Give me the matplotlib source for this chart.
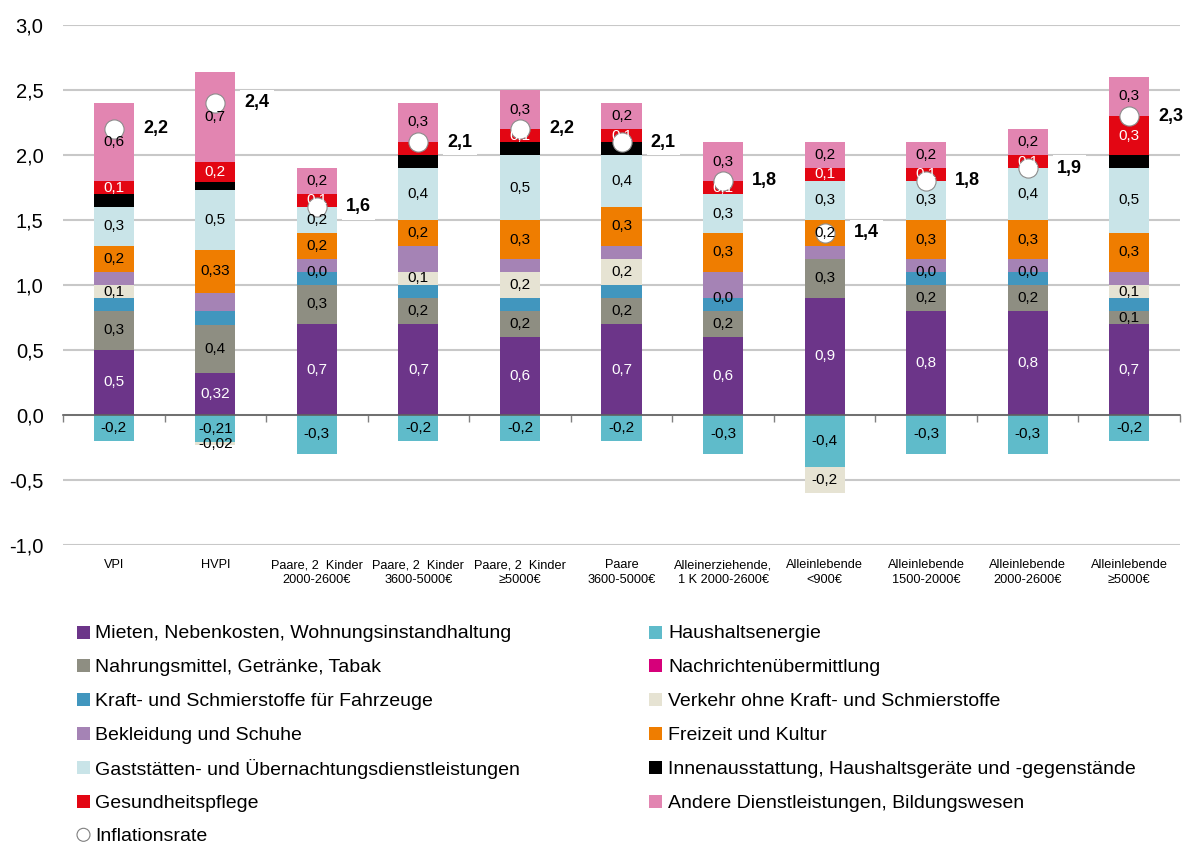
import numpy as np
import matplotlib
matplotlib.use("Agg")
import matplotlib.pyplot as plt
from matplotlib.patches import Rectangle, Ellipse

plt.rcParams["font.family"] = ["Liberation Sans", "DejaVu Sans"]

categories = [
    "VPI", "HVPI",
    "Paare, 2  Kinder\n2000-2600€", "Paare, 2  Kinder\n3600-5000€", "Paare, 2  Kinder\n≥5000€",
    "Paare\n3600-5000€", "Alleinerziehende,\n1 K 2000-2600€", "Alleinlebende\n<900€",
    "Alleinlebende\n1500-2000€", "Alleinlebende\n2000-2600€", "Alleinlebende\n≥5000€",
]

# segment heights (percentage points)
mieten = [0.5, 0.32, 0.7, 0.7, 0.6, 0.7, 0.6, 0.9, 0.8, 0.8, 0.7]
energie = [-0.2, -0.21, -0.3, -0.2, -0.2, -0.2, -0.3, -0.4, -0.3, -0.3, -0.2]
nahrung = [0.3, 0.37, 0.3, 0.2, 0.2, 0.2, 0.2, 0.3, 0.2, 0.2, 0.1]
nachrichten = [0.0] * 11
kraft = [0.1, 0.11, 0.1, 0.1, 0.1, 0.1, 0.1, 0.0, 0.1, 0.1, 0.1]
verkehr = [0.1, -0.02, 0.0, 0.1, 0.2, 0.2, 0.0, -0.2, 0.0, 0.0, 0.1]
bekleidung = [0.1, 0.14, 0.1, 0.2, 0.1, 0.1, 0.2, 0.1, 0.1, 0.1, 0.1]
freizeit = [0.2, 0.33, 0.2, 0.2, 0.3, 0.3, 0.3, 0.2, 0.3, 0.3, 0.3]
gaststaetten = [0.3, 0.46, 0.2, 0.4, 0.5, 0.4, 0.3, 0.3, 0.3, 0.4, 0.5]
innen = [0.1, 0.06, 0.0, 0.1, 0.1, 0.1, 0.0, 0.0, 0.0, 0.0, 0.1]
gesundheit = [0.1, 0.16, 0.1, 0.1, 0.1, 0.1, 0.1, 0.1, 0.1, 0.1, 0.3]
andere = [0.6, 0.69, 0.2, 0.3, 0.3, 0.2, 0.3, 0.2, 0.2, 0.2, 0.3]
inflation = [2.2, 2.4, 1.6, 2.1, 2.2, 2.1, 1.8, 1.4, 1.8, 1.9, 2.3]

# data labels as printed in the chart (None = not shown)
lab_mieten = ["0,5", "0,32", "0,7", "0,7", "0,6", "0,7", "0,6", "0,9", "0,8", "0,8", "0,7"]
lab_energie = ["-0,2", "-0,21", "-0,3", "-0,2", "-0,2", "-0,2", "-0,3", "-0,4", "-0,3", "-0,3", "-0,2"]
lab_nahrung = ["0,3", "0,4", "0,3", "0,2", "0,2", "0,2", "0,2", "0,3", "0,2", "0,2", "0,1"]
lab_verkehr = ["0,1", "-0,02", "0,0", "0,1", "0,2", "0,2", "0,0", "-0,2", "0,0", "0,0", "0,1"]
lab_freizeit = ["0,2", "0,33", "0,2", "0,2", "0,3", "0,3", "0,3", "0,2", "0,3", "0,3", "0,3"]
lab_gast = ["0,3", "0,5", "0,2", "0,4", "0,5", "0,4", "0,3", "0,3", "0,3", "0,4", "0,5"]
lab_gesund = ["0,1", "0,2", "0,1", None, "0,1", "0,1", "0,1", "0,1", "0,1", "0,1", "0,3"]
lab_andere = ["0,6", "0,7", "0,2", "0,3", "0,3", "0,2", "0,3", "0,2", "0,2", "0,2", "0,3"]
lab_inflation = ["2,2", "2,4", "1,6", "2,1", "2,2", "2,1", "1,8", "1,4", "1,8", "1,9", "2,3"]

series = [
    ("Mieten, Nebenkosten, Wohnungsinstandhaltung", mieten, "#6C3589", lab_mieten, "white"),
    ("Haushaltsenergie", energie, "#5FBBCA", lab_energie, "black"),
    ("Nahrungsmittel, Getränke, Tabak", nahrung, "#8E8E82", lab_nahrung, "black"),
    ("Nachrichtenübermittlung", nachrichten, "#D6007A", None, "black"),
    ("Kraft- und Schmierstoffe für Fahrzeuge", kraft, "#4196BE", None, "black"),
    ("Verkehr ohne Kraft- und Schmierstoffe", verkehr, "#E6E3D3", lab_verkehr, "black"),
    ("Bekleidung und Schuhe", bekleidung, "#A583B5", None, "black"),
    ("Freizeit und Kultur", freizeit, "#EF7D00", lab_freizeit, "black"),
    ("Gaststätten- und Übernachtungsdienstleistungen", gaststaetten, "#C9E4E8", lab_gast, "black"),
    ("Innenausstattung, Haushaltsgeräte und -gegenstände", innen, "#000000", None, "black"),
    ("Gesundheitspflege", gesundheit, "#E30613", lab_gesund, "white"),
    ("Andere Dienstleistungen, Bildungswesen", andere, "#E285B1", lab_andere, "black"),
]

W, H = 1184, 843
fig = plt.figure(figsize=(W / 100, H / 100), dpi=100)
ax = fig.add_axes([63 / W, 1 - 545 / H, 1117 / W, 520 / H])

x = np.arange(len(categories))
width = 0.395
pos_bottom = np.zeros(len(x))
neg_bottom = np.zeros(len(x))
for name, vals, color, labels, tcolor in series:
    v = np.array(vals)
    bottom = np.where(v >= 0, pos_bottom, neg_bottom)
    ax.bar(x, v, width, bottom=bottom, color=color, linewidth=0, zorder=2)
    if labels is not None:
        for i, lab in enumerate(labels):
            if lab is None:
                continue
            ax.text(x[i], bottom[i] + v[i] / 2, lab, ha="center", va="center",
                    fontsize=11, color=tcolor, zorder=6)
    pos_bottom = pos_bottom + np.clip(v, 0, None)
    neg_bottom = neg_bottom + np.clip(v, None, 0)

ax.scatter(x, inflation, s=190, color="white", edgecolor="#8C8C8C", linewidth=0.8, zorder=5)
for i, lab in enumerate(lab_inflation):
    ax.annotate(lab, (x[i], inflation[i]), xytext=(21, 0), textcoords="offset points",
                ha="left", va="center", fontsize=13, fontweight="bold", zorder=6,
                bbox=dict(facecolor="white", edgecolor="none", pad=3))

ax.set_xlim(-0.5, len(x) - 0.5)
ax.set_ylim(-1.0, 3.0)
yt = np.arange(-1.0, 3.01, 0.5)
ax.set_yticks(yt)
ax.set_yticklabels([f"{t:.1f}".replace(".", ",") for t in yt], fontsize=14.5)
ax.tick_params(axis="y", length=0, pad=14)
ax.yaxis.grid(True, color="#C8C8C8", linewidth=1.5)
ax.set_axisbelow(True)

ax.set_xticks(np.arange(-0.5, len(x), 1.0))
ax.set_xticklabels([])
ax.tick_params(axis="x", direction="out", length=5, color="#808080", width=1)
for s in ["left", "right", "top"]:
    ax.spines[s].set_visible(False)
ax.spines["bottom"].set_position(("data", 0))
ax.spines["bottom"].set_color("#606060")
ax.spines["bottom"].set_linewidth(1.2)
ax.spines["bottom"].set_zorder(3)

for i, cat in enumerate(categories):
    ax.text(x[i], -1.11, cat, ha="center", va="top", fontsize=9.2,
            linespacing=1.3, clip_on=False)

# legend, laid out as in the original: two columns, fixed row pitch
left_col = [0, 2, 4, 6, 8, 10]
right_col = [1, 3, 5, 7, 9, 11]
row_y = [632 + 33.8 * r for r in range(7)]
sq = 13
for col, (sx, tx) in zip((left_col, right_col), ((77, 95), (649, 668))):
    for r, k in enumerate(col):
        yc = row_y[r]
        fig.add_artist(Rectangle((sx / W, 1 - (yc + sq / 2) / H), sq / W, sq / H,
                                 transform=fig.transFigure, facecolor=series[k][2],
                                 edgecolor="none"))
        fig.text(tx / W, 1 - yc / H, series[k][0], ha="left", va="center_baseline",
                 fontsize=14)
yc = row_y[6]
fig.add_artist(Ellipse(((77 + sq / 2) / W, 1 - yc / H), sq / W, sq / H,
                       transform=fig.transFigure, facecolor="white",
                       edgecolor="#7F7F7F", linewidth=0.8))
fig.text(95 / W, 1 - yc / H, "Inflationsrate", ha="left", va="center_baseline", fontsize=14)

fig.savefig("out.png", dpi=100)
